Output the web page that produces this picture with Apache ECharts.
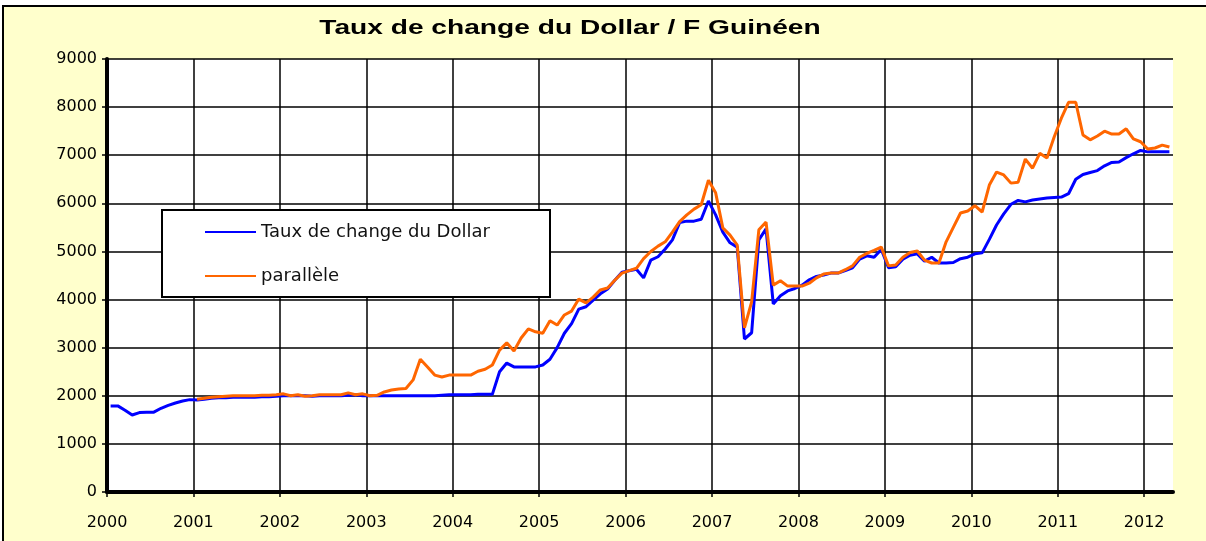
<!DOCTYPE html>
<html>
<head>
<meta charset="utf-8">
<script src="https://cdn.jsdelivr.net/npm/echarts@6/dist/echarts.min.js"></script>
<style>
html,body{margin:0;padding:0;background:#fff;}
#chart{width:1206px;height:541px;}
</style>
</head>
<body>
<div id="chart"></div>
<script>
// ---- DATA ----
const titleText = 'Taux de change du Dollar / F Guinéen';
const seriesNames = ['Taux de change du Dollar', 'parallèle'];
const startYear = 2000;
const yearTicks = ['2000','2001','2002','2003','2004','2005','2006','2007','2008','2009','2010','2011','2012'];
// monthly values, Jan 2000 .. Apr 2012
const officialRate = [
  1790,1790,1700,1600,1650,1660,1660,1740,1800,1850,1890,1920,
  1910,1930,1950,1960,1960,1970,1970,1970,1970,1980,1980,1990,
  2000,2000,2000,2000,1990,2000,2000,2000,2000,2010,2020,2000,
  2000,2000,2000,2000,2000,2000,2000,2000,2000,2000,2010,2020,
  2020,2020,2020,2030,2030,2030,2500,2680,2600,2600,2600,2600,
  2640,2760,3000,3300,3500,3800,3850,3990,4120,4220,4400,4570,
  4600,4630,4450,4820,4890,5050,5240,5600,5630,5630,5670,6050,
  5760,5400,5180,5090,3180,3310,5240,5470,3910,4080,4180,4230,
  4300,4410,4480,4510,4550,4550,4600,4660,4840,4910,4880,5040,
  4660,4680,4840,4920,4950,4800,4880,4760,4760,4770,4850,4880,
  4950,4970,5250,5550,5780,5980,6060,6030,6070,6090,6110,6120,
  6130,6200,6500,6600,6640,6680,6780,6850,6860,6950,7030,7100,
  7070,7070,7070,7070
];
const parallelRate = [
  null,null,null,null,null,null,null,null,null,null,null,null,
  1930,1950,1970,1980,1990,2000,2000,2000,2000,2010,2010,2020,
  2040,2000,2020,1990,2000,2020,2020,2020,2020,2060,2020,2040,
  2000,2010,2080,2120,2140,2150,2330,2760,2600,2430,2390,2430,
  2430,2430,2430,2510,2550,2640,2950,3100,2930,3200,3390,3330,
  3300,3560,3470,3680,3760,4010,3930,4050,4200,4240,4400,4550,
  4600,4650,4850,5000,5110,5200,5400,5620,5760,5880,5970,6480,
  6220,5490,5340,5130,3410,3950,5450,5610,4300,4390,4280,4280,
  4280,4340,4450,4530,4550,4550,4620,4700,4880,4960,5020,5090,
  4700,4720,4880,4980,5010,4820,4760,4760,5200,5500,5800,5840,
  5950,5820,6380,6650,6590,6420,6440,6920,6730,7040,6940,7380,
  7770,8100,8100,7420,7320,7400,7500,7440,7440,7550,7340,7280,
  7130,7150,7210,7170
];
const yMin = 0, yMax = 9000, yStep = 1000;

// ---- BUILD ----
const nMonths = officialRate.length;
const monthPos = officialRate.map((_, i) => startYear + (i + 0.5) / 12);
const toPairs = arr => arr.map((v, i) => [monthPos[i], v]);

const chart = echarts.init(document.getElementById('chart'), null, {renderer: 'canvas'});
const labelFont = 'DejaVu Sans';
chart.setOption({
  animation: false,
  backgroundColor: '#fff',
  graphic: [
    {type: 'rect', z: -100, silent: true,
     shape: {x: 3, y: 6, width: 1300, height: 600},
     style: {fill: '#FFFFCC', stroke: '#000', lineWidth: 2}},
    {type: 'text', z: 10, x: 570, y: 28, scaleX: 1.34, silent: true,
     style: {text: titleText, font: 'bold 21px "Liberation Sans", Arial, sans-serif',
             fill: '#000', textAlign: 'center', textVerticalAlign: 'middle'}}
  ],
  grid: {left: 107, right: 33, top: 59, bottom: 49, show: true,
         backgroundColor: '#fff', borderWidth: 0},
  legend: {
    orient: 'vertical', left: 162, top: 210,
    backgroundColor: '#fff', borderColor: '#000', borderWidth: 2, borderRadius: 0,
    padding: [12, 19, 11, 43],
    icon: 'rect',
    itemWidth: 51, itemHeight: 2, itemGap: 24,
    selectedMode: false,
    textStyle: {fontFamily: labelFont, fontSize: 18, lineHeight: 20, height: 20,
                color: '#111', width: 270},
    data: seriesNames
  },
  xAxis: {
    type: 'value', min: startYear, max: startYear + nMonths / 12, interval: 1,
    axisLine: {show: true, lineStyle: {color: '#000', width: 4}},
    axisTick: {show: true, length: 5, lineStyle: {color: '#000', width: 1.5}},
    splitLine: {show: true, showMaxLine: false, lineStyle: {color: '#000', width: 1.5}},
    axisLabel: {margin: 23, fontFamily: labelFont, fontSize: 16, color: '#000',
      showMaxLabel: false,
      formatter: v => { const k = yearTicks.indexOf(String(Math.round(v))); return (Math.abs(v - Math.round(v)) < 1e-6 && k >= 0) ? yearTicks[k] : ''; }}
  },
  yAxis: {
    type: 'value', min: yMin, max: yMax, interval: yStep,
    axisLine: {show: true, lineStyle: {color: '#000', width: 4}},
    axisTick: {show: true, length: 5, lineStyle: {color: '#000', width: 1.5}},
    splitLine: {show: true, lineStyle: {color: '#000', width: 1.5}},
    axisLabel: {margin: 10, fontFamily: labelFont, fontSize: 16, color: '#000',
      formatter: v => String(v)}
  },
  series: [
    {name: seriesNames[0], type: 'line', symbol: 'none', showSymbol: false,
     data: toPairs(officialRate), color: '#0000FF',
     lineStyle: {width: 3, color: '#0000FF'}, z: 3},
    {name: seriesNames[1], type: 'line', symbol: 'none', showSymbol: false,
     data: toPairs(parallelRate), color: '#FF6600',
     lineStyle: {width: 3, color: '#FF6600'}, z: 4}
  ]
});
</script>
</body>
</html>
